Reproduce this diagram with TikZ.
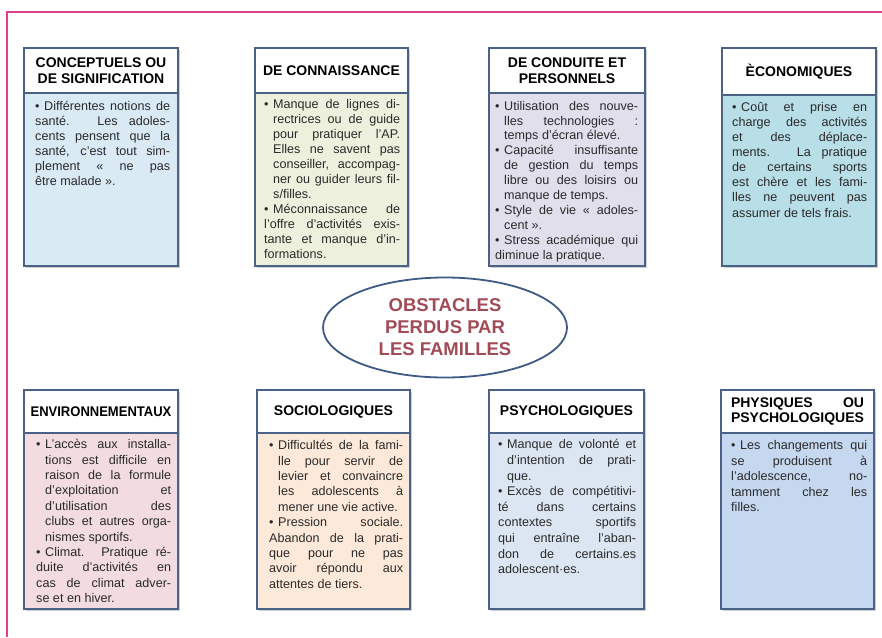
\documentclass[tikz,border=0pt]{standalone}
\usepackage{fontspec}
\setmainfont{Liberation Sans}
\usepackage{calc}
\usetikzlibrary{shadows,shapes.geometric}
\definecolor{bord}{HTML}{4A6285}
\definecolor{ellb}{HTML}{3E5A85}
\definecolor{obst}{HTML}{A04B55}
\definecolor{txt}{HTML}{2A2A2A}
\definecolor{pinkc}{HTML}{DE3F8E}
\definecolor{cA}{HTML}{DAEAF4}
\definecolor{cB}{HTML}{EEF0DE}
\definecolor{cC}{HTML}{E2DFED}
\definecolor{cD}{HTML}{B8DEE8}
\definecolor{cE}{HTML}{F2DCDF}
\definecolor{cF}{HTML}{FDE9D9}
\definecolor{cG}{HTML}{DCE6F2}
\definecolor{cH}{HTML}{C6D8F0}
\newcommand\hdfont{\bfseries\fontsize{14}{15.5}\selectfont\color{black}}
\newcommand\bdfont[1]{\fontsize{12.6}{#1}\selectfont\color{txt}\hyphenpenalty=10000\exhyphenpenalty=10000\tolerance=10000\emergencystretch=0pt}
\newlength\hng \setlength\hng{9pt}
\newcommand\itm{\par\noindent\hangindent=\hng\hangafter=1\makebox[\hng][l]{\rule{0pt}{9pt}\textbullet}\ignorespaces}
\newcommand\lbk{\linebreak}
\tikzset{
  panel/.style={draw=bord, line width=1.6pt, anchor=north west, inner sep=0pt, outer sep=0pt,
    drop shadow={shadow xshift=1.8pt, shadow yshift=-1.8pt, opacity=.35, fill=black!55}},
  head/.style={draw=bord, line width=1.6pt, fill=white, anchor=north west, inner sep=0pt, outer sep=0pt,
    font=\hdfont, align=center},
  bodytext/.style={anchor=north west, inner sep=0pt, font=\bdfont{#1}, align=justify},
  bodytext/.default=15.2,
}
% #1 name #2 x1 #3 y1 #4 x2 #5 y2 #6 header bottom #7 fill #8 header text
\newcommand\panelbox[8]{%
  \node[panel, fill=#7, minimum width=#4pt-#2pt, minimum height=#5pt-#3pt] (#1) at (#2,#3) {};
  \node[head, minimum width=#4pt-#2pt, minimum height=#6pt-#3pt] (#1h) at (#2,#3) {#8};
}
\begin{document}
\begin{tikzpicture}[x=1pt,y=-1pt]
\useasboundingbox (0,0) rectangle (882,637);
\draw[pinkc, line width=1.3pt] (882,12) -- (7,12) -- (7,637);

% top row
\panelbox{bA}{24}{48}{178}{266}{93}{cA}{CONCEPTUELS OU\\DE SIGNIFICATION}
\node[bodytext=15.1, text width=135pt] (bAt) at (35,95) {\itm Différentes notions de\lbk santé. Les adoles-\lbk cents pensent que la\lbk santé, c’est tout sim-\lbk plement « ne pas\lbk être malade ».};

\panelbox{bB}{255}{48}{408}{266}{93}{cB}{DE CONNAISSANCE}
\node[bodytext=15.0, text width=136pt] (bBt) at (264,93) {\itm Manque de lignes di-\lbk rectrices ou de guide\lbk pour pratiquer l’AP.\lbk Elles ne savent pas\lbk conseiller, accompag-\lbk ner ou guider leurs fil-\lbk s/filles.
\itm Méconnaissance de\lbk l’offre d’activités exis-\lbk tante et manque d’in-\lbk formations.};

\panelbox{bC}{489}{48}{645}{266}{93}{cC}{DE CONDUITE ET\\PERSONNELS}
\node[bodytext=14.9, text width=143pt] (bCt) at (495,95) {\itm Utilisation des nouve-\lbk lles technologies :\lbk temps d’écran élevé.
\itm Capacité insuffisante\lbk de gestion du temps\lbk libre ou des loisirs ou\lbk manque de temps.
\itm Style de vie « adoles-\lbk cent ».
\itm Stress académique qui\lbk diminue la pratique.};

\panelbox{bD}{722}{48}{876}{266}{95}{cD}{ÈCONOMIQUES}
\node[bodytext=15.1, text width=135pt] (bDt) at (732,96) {\itm Coût et prise en\lbk charge des activités\lbk et des déplace-\lbk ments. La pratique\lbk de certains sports\lbk est chère et les fami-\lbk lles ne peuvent pas\lbk assumer de tels frais.};

% centre
\node[ellipse, draw=ellb, line width=1.8pt, minimum width=244pt, minimum height=100pt,
  inner sep=0pt, font=\bfseries\fontsize{18.5}{22}\selectfont, text=obst, align=center] (ctr) at (445,327.5)
  {OBSTACLES\\PERDUS PAR\\LES FAMILLES};

% bottom row
\panelbox{bE}{24}{390}{178}{609}{433}{cE}{\scalebox{0.93}[1]{ENVIRONNEMENTAUX}}
\node[bodytext=15.4, text width=135pt] (bEt) at (36,433) {\itm L’accès aux installa-\lbk tions est difficile en\lbk raison de la formule\lbk d’exploitation et\lbk d’utilisation des\lbk clubs et autres orga-\lbk nismes sportifs.
\itm Climat. Pratique ré-\lbk duite d’activités en\lbk cas de climat adver-\lbk se et en hiver.};

\panelbox{bF}{257}{390}{410}{609}{433}{cF}{SOCIOLOGIQUES}
\node[bodytext=15.4, text width=134pt] (bFt) at (269,434) {\itm Difficultés de la fami-\lbk lle pour servir de\lbk levier et convaincre\lbk les adolescents à\lbk mener une vie active.
\itm Pression sociale.\lbk Abandon de la prati-\lbk que pour ne pas\lbk avoir répondu aux\lbk attentes de tiers.};

\panelbox{bG}{489}{390}{644}{609}{433}{cG}{PSYCHOLOGIQUES}
\node[bodytext=15.6, text width=138pt] (bGt) at (498,433) {\itm Manque de volonté et\lbk d’intention de prati-\lbk que.
\itm Excès de compétitivi-\lbk té dans certains\lbk contextes sportifs\lbk qui entraîne l’aban-\lbk don de certains.es\lbk adolescent·es.};

\panelbox{bH}{721}{390}{874}{609}{433}{cH}{\makebox[\widthof{PSYCHOLOGIQUES}][s]{PHYSIQUES OU}\\PSYCHOLOGIQUES}
\node[bodytext=15.5, text width=136pt] (bHt) at (731,434) {\itm Les changements qui\lbk se produisent à\lbk l’adolescence, no-\lbk tamment chez les\lbk filles.};
\end{tikzpicture}
\end{document}
